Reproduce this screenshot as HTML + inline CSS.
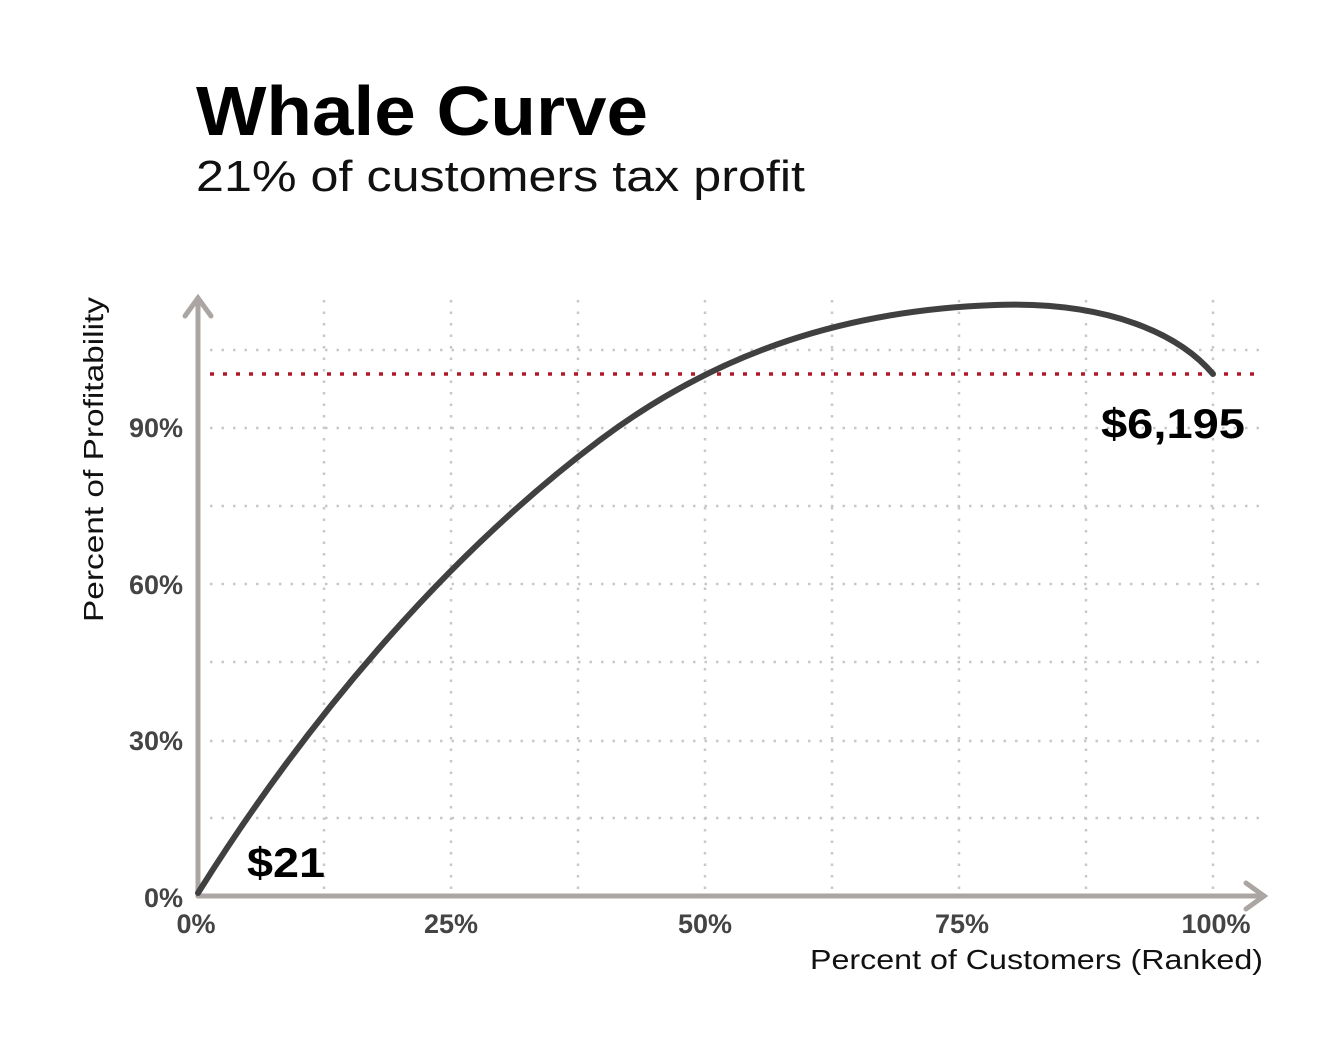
<!DOCTYPE html>
<html><head><style>
body{margin:0;background:#fff;}
svg{display:block;font-family:"Liberation Sans",sans-serif;}
</style></head><body>
<svg width="1344" height="1056" viewBox="0 0 1344 1056">
<text x="196" y="135" font-size="70" font-weight="bold" fill="#000" textLength="452" lengthAdjust="spacingAndGlyphs">Whale Curve</text>
<text x="196" y="191" font-size="44" fill="#111" textLength="609" lengthAdjust="spacingAndGlyphs">21% of customers tax profit</text>
<g stroke="#c8c8c8" stroke-width="2.5" stroke-dasharray="2.5 9">
<line x1="210" y1="350" x2="1260" y2="350"/>
<line x1="210" y1="428" x2="1260" y2="428"/>
<line x1="210" y1="506" x2="1260" y2="506"/>
<line x1="210" y1="584" x2="1260" y2="584"/>
<line x1="210" y1="662" x2="1260" y2="662"/>
<line x1="210" y1="741" x2="1260" y2="741"/>
<line x1="210" y1="818" x2="1260" y2="818"/>
<line x1="324" y1="300" x2="324" y2="890"/>
<line x1="451" y1="300" x2="451" y2="890"/>
<line x1="578" y1="300" x2="578" y2="890"/>
<line x1="705" y1="300" x2="705" y2="890"/>
<line x1="832" y1="300" x2="832" y2="890"/>
<line x1="959" y1="300" x2="959" y2="890"/>
<line x1="1086" y1="300" x2="1086" y2="890"/>
<line x1="1213" y1="300" x2="1213" y2="890"/>
</g>
<line x1="210" y1="374" x2="1260" y2="374" stroke="#b0182a" stroke-width="3.5" stroke-dasharray="4 9"/>
<g stroke="#aba5a3" stroke-width="5" fill="none" stroke-linecap="round">
<line x1="198" y1="298" x2="198" y2="896"/>
<line x1="198" y1="896" x2="1264" y2="896"/>
<polyline points="185,316 198,298 211,316"/>
<polyline points="1246,883 1264,896 1246,909"/>
</g>
<path d="M198,893 C300,730 440,560 600,440 C720,350 850,310 995,305 C1110,301 1180,335 1213,374" fill="none" stroke="#404040" stroke-width="6" stroke-linecap="round"/>
<text x="247" y="877" font-size="42" font-weight="bold" fill="#000" textLength="78" lengthAdjust="spacingAndGlyphs">$21</text>
<text x="1101" y="438" font-size="42" font-weight="bold" fill="#000" textLength="144" lengthAdjust="spacingAndGlyphs">$6,195</text>
<g font-size="27" font-weight="bold" fill="#444" text-anchor="end">
<text x="183" y="437">90%</text>
<text x="183" y="594">60%</text>
<text x="183" y="750">30%</text>
<text x="183" y="907">0%</text>
</g>
<g font-size="27" font-weight="bold" fill="#444" text-anchor="middle">
<text x="196" y="933">0%</text>
<text x="451" y="933">25%</text>
<text x="705" y="933">50%</text>
<text x="962" y="933">75%</text>
<text x="1216" y="933">100%</text>
</g>
<text x="810" y="969" font-size="28" fill="#111" textLength="453" lengthAdjust="spacingAndGlyphs">Percent of Customers (Ranked)</text>
<text transform="translate(103,622) rotate(-90)" font-size="28" fill="#111" textLength="325" lengthAdjust="spacingAndGlyphs">Percent of Profitability</text>
</svg>
</body></html>
